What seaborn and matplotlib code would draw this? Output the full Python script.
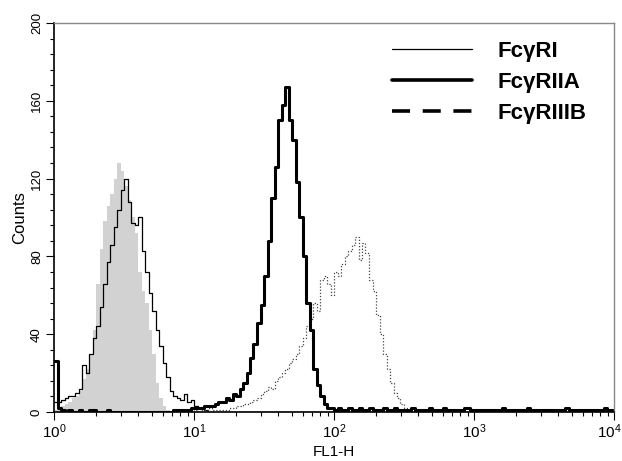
import numpy as np
import pandas as pd
import matplotlib
matplotlib.use("Agg")
import matplotlib.pyplot as plt
from matplotlib.lines import Line2D
from matplotlib.transforms import ScaledTranslation
import seaborn as sns

# ---- data: counts per channel bin (bins of 0.025 decade, from 10^0 to 10^4) ----
bin_width_log = 0.025
n_bins = 160

# isotype control (grey filled), bins 0..33
isotype = [1, 2, 3, 4, 5, 7, 8, 11, 17, 22, 30, 42, 66, 84, 98, 106, 112, 120,
           128, 124, 116, 109, 100, 92, 72, 62, 56, 42, 30, 15, 7, 3, 1, 0]

# FcγRI (thin line), bins 0..43
fcgr1 = [5, 5, 6, 7, 8, 8, 10, 12, 24, 20, 30, 38, 44, 54, 66, 77, 86, 95, 104,
         114, 120, 108, 97, 96, 100, 83, 72, 61, 52, 42, 34, 25, 18, 11, 8, 7,
         6, 9, 5, 6, 3, 2, 2, 1]

# FcγRIIA (thick line), bins 0..159
fcgr2a = [26, 2, 1, 0, 1, 0, 0, 1, 0, 0, 1, 1, 0, 0, 0, 1, 0, 0, 0, 0,
          0, 0, 0, 0, 0, 0, 0, 0, 0, 0, 0, 0, 0, 0, 1, 1, 1, 1, 1, 2,
          2, 2, 2, 3, 3, 3, 4, 5, 5, 7, 6, 9, 8, 12, 15, 20, 28, 35, 46, 55,
          70, 88, 110, 126, 150, 158, 167, 150, 140, 118, 100, 80, 56, 42, 22, 14, 8, 4, 2, 2,
          1, 2, 1, 1, 2, 1, 1, 2, 1, 1, 2, 1, 1, 1, 2, 1, 1, 2, 1, 1,
          1, 1, 2, 1, 1, 1, 1, 2, 1, 1, 1, 2, 1, 1, 1, 1, 1, 2, 2, 1,
          1, 1, 1, 1, 1, 1, 1, 1, 2, 1, 1, 1, 1, 1, 1, 2, 1, 1, 1, 1,
          1, 1, 1, 1, 1, 1, 2, 1, 1, 1, 1, 1, 1, 1, 1, 1, 1, 2, 1, 1]

# FcγRIIIB (dotted line), bins 40..102
fcgr3b_start = 40
fcgr3b = [1, 0, 1, 1, 2, 1, 1, 1, 1, 1, 2, 2, 3, 3, 4, 4, 5, 6, 7, 9,
          11, 13, 12, 16, 18, 20, 22, 25, 27, 30, 34, 38, 44, 48, 56, 52, 68, 70, 66, 60,
          72, 70, 76, 80, 83, 86, 90, 78, 87, 82, 68, 62, 50, 40, 30, 22, 15, 10, 7, 4,
          2, 1, 1]

legend_labels = ["FcγRI", "FcγRIIA", "FcγRIIIB"]
x_label = "FL1-H"
y_label = "Counts"
y_ticks = [0, 40, 80, 120, 160, 200]


def to_frame(values, start=0):
    counts = np.zeros(n_bins)
    counts[start:start + len(values)] = values
    centers = 10 ** ((np.arange(n_bins) + 0.5) * bin_width_log)
    return pd.DataFrame({"fl1": centers, "count": counts})


sns.set_style("ticks")
plt.rcParams["font.family"] = ["Liberation Sans", "DejaVu Sans"]
plt.rcParams.update({"text.color": "black", "axes.labelcolor": "black",
                     "xtick.color": "black", "ytick.color": "black"})

fig = plt.figure(figsize=(6.22, 4.61), dpi=100)
ax = fig.add_axes([54 / 622, 1 - 412 / 461, (614 - 54) / 622, (412 - 23) / 461])

common = dict(x="fl1", weights="count", bins=n_bins, binrange=(0, 4),
              log_scale=True, element="step", ax=ax)

sns.histplot(data=to_frame(isotype), fill=True, color="#d2d2d2", alpha=1,
             linewidth=0, **common)
sns.histplot(data=to_frame(fcgr1), fill=False, color="black", linewidth=0.9,
             **common)
sns.histplot(data=to_frame(fcgr3b, fcgr3b_start), fill=False, color="#444444",
             linewidth=0.9, linestyle=(0, (1, 1.5)), **common)
sns.histplot(data=to_frame(fcgr2a), fill=False, color="black", linewidth=2.2,
             **common)

ax.set_xlim(1, 1e4)
ax.set_ylim(0, 200)
ax.set_yticks(y_ticks)
ax.set_yticks(np.arange(0, 201, 8), minor=True)
ax.tick_params(axis="y", which="major", direction="out", length=6, width=0.8,
               labelsize=9.5, labelrotation=90, pad=2, colors="black")
ax.tick_params(axis="y", which="minor", direction="out", length=3, width=0.8,
               colors="black")
ax.tick_params(axis="x", which="major", direction="out", length=6, width=0.8,
               labelsize=11, pad=1.5, colors="black")
ax.tick_params(axis="x", which="minor", direction="out", length=3, width=0.8,
               colors="black")
for lbl in ax.get_yticklabels():
    lbl.set_va("center")

fig.canvas.draw()
xlabels = ax.get_xticklabels()
last = [l for l in xlabels if abs(l.get_position()[0] - 1e4) < 1]
for l in last:
    l.set_transform(l.get_transform() + ScaledTranslation(-5 / 100, 0, fig.dpi_scale_trans))

ax.set_xlabel(x_label, fontsize=11, labelpad=3, color="black")
ax.set_ylabel(y_label, fontsize=12, labelpad=3, color="black")

for side in ["top", "right"]:
    ax.spines[side].set_visible(True)
    ax.spines[side].set_color("#888888")
    ax.spines[side].set_linewidth(1.0)
for side in ["left", "bottom"]:
    ax.spines[side].set_color("black")
    ax.spines[side].set_linewidth(1.2)

handles = [
    Line2D([], [], color="black", linewidth=0.9),
    Line2D([], [], color="black", linewidth=2.6),
    Line2D([], [], color="black", linewidth=2.6, linestyle=(0, (5, 3.5))),
]
ax.legend(handles, legend_labels, loc="upper left",
          bbox_to_anchor=((392 - 54) / 560, (412 - 41) / 389),
          frameon=False, borderpad=0, borderaxespad=0,
          handlelength=3.6, handletextpad=1.15, labelspacing=0.44,
          labelcolor="black",
          prop={"family": "Liberation Sans", "weight": "bold", "size": 16})

fig.savefig("out.png", dpi=100)
